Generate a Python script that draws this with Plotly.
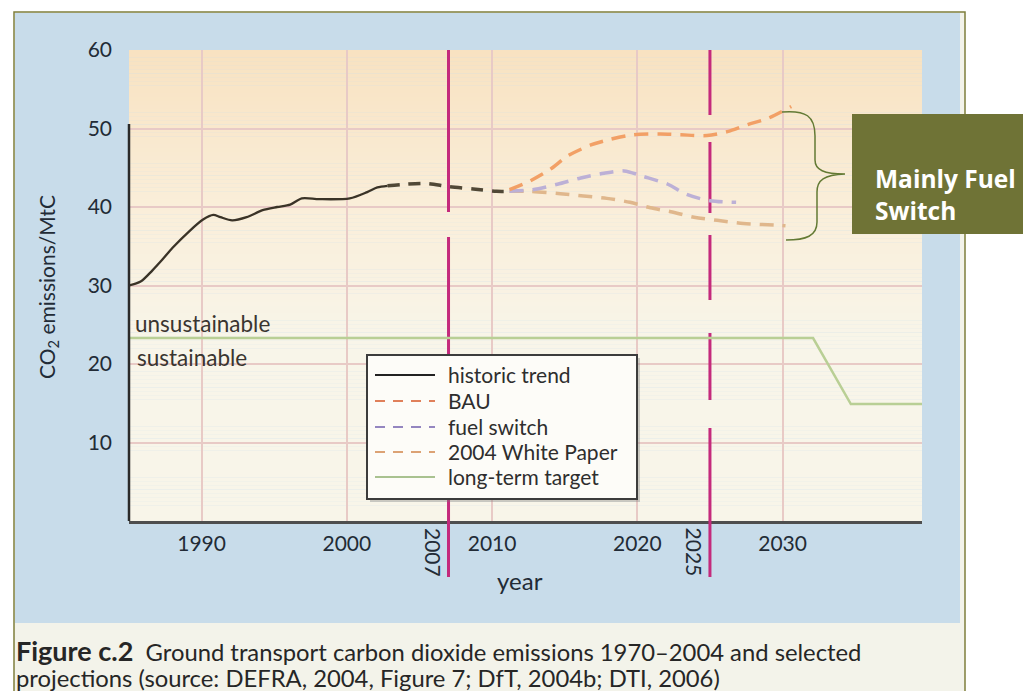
import plotly.graph_objects as go

# ---------------- data ----------------
historic_years = [1985, 1985.8, 1986.6, 1987.3, 1988.0, 1989.2, 1990.1, 1990.8, 1991.3, 1992.1,
                  1993.1, 1994.2, 1995.2, 1996.1, 1996.9, 1998.1, 2000.2, 2001.4, 2002.1, 2002.8]
historic_values = [30.0, 30.5, 31.9, 33.3, 34.8, 37.0, 38.4, 39.0, 38.7, 38.3,
                   38.7, 39.6, 40.0, 40.3, 41.1, 41.0, 41.1, 41.9, 42.5, 42.7]

bridge_years = [2002.8, 2004.0, 2005.5, 2007.0, 2008.7, 2010.3, 2011.2]
bridge_values = [42.7, 42.9, 43.0, 42.6, 42.3, 42.0, 42.0]

bau_years = [2011.2, 2012.6, 2014.0, 2015.2, 2016.8, 2018.1, 2019.7, 2021.6, 2023.0,
             2024.8, 2026.2, 2027.6, 2029.0, 2030.6]
bau_values = [42.2, 43.3, 44.8, 46.5, 47.9, 48.6, 49.2, 49.3, 49.2,
              49.1, 49.6, 50.5, 51.3, 52.8]

fuel_years = [2011.2, 2012.8, 2014.5, 2016.1, 2017.7, 2019.1, 2020.4, 2022.1, 2023.4, 2025.0, 2026.8]
fuel_values = [42.0, 42.2, 42.9, 43.7, 44.3, 44.6, 43.9, 42.9, 41.6, 40.8, 40.6]

wp_years = [2011.2, 2012.6, 2014.7, 2016.3, 2017.9, 2019.5, 2020.9, 2022.3, 2023.9,
            2025.5, 2027.3, 2029.4, 2030.2]
wp_values = [42.0, 42.0, 41.7, 41.4, 41.1, 40.6, 39.9, 39.4, 38.7,
             38.3, 37.9, 37.7, 37.6]

target_years = [1985, 2032.1, 2034.7, 2039.6]
target_values = [23.3, 23.3, 14.9, 14.9]

marker_years = [2007, 2025]
x_tick_vals = [1990, 2000, 2010, 2020, 2030]
y_tick_vals = [10, 20, 30, 40, 50, 60]
x_range = [1985, 2039.6]
y_range = [0, 60]

legend_names = ["historic trend", "BAU", "fuel switch", "2004 White Paper", "long-term target"]

# ---------------- layout helpers ----------------
# the page body adds an 8px margin, so the figure is drawn 8px smaller
PAGE_OFF = 8
VIEW_W, VIEW_H = 1031, 691
W, H = VIEW_W - PAGE_OFF, VIEW_H - PAGE_OFF
# plot-area box in screen pixels
L, R, T, B = 129, 922, 50, 521


def px(x):
    return (x - L) / (R - L)


def py(y):
    return (B - y) / (B - T)


TICK_FONT = dict(family="Lato", size=21, color="#222b36")

fig = go.Figure()

styles = {
    "historic trend": dict(color="#3a3327", dash="solid", width=2.3),
    "BAU": dict(color="#f2a066", dash="14px,9px", width=3.5),
    "fuel switch": dict(color="#bcb0d6", dash="14px,9px", width=3.5),
    "2004 White Paper": dict(color="#e0b78c", dash="14px,9px", width=3.5),
    "long-term target": dict(color="#b9cf95", dash="solid", width=2.5),
}
legend_styles = {
    "historic trend": dict(color="#222222", dash="solid"),
    "BAU": dict(color="#e0805a", dash="10px,8px"),
    "fuel switch": dict(color="#9486c0", dash="10px,8px"),
    "2004 White Paper": dict(color="#dca274", dash="10px,8px"),
    "long-term target": dict(color="#a9c290", dash="solid"),
}

fig.add_trace(go.Scatter(x=target_years, y=target_values, mode="lines", name="long-term target",
                         line=dict(**styles["long-term target"]), showlegend=False))
fig.add_trace(go.Scatter(x=wp_years, y=wp_values, mode="lines", name="2004 White Paper",
                         line=dict(shape="spline", smoothing=0.8, **styles["2004 White Paper"]),
                         showlegend=False))
fig.add_trace(go.Scatter(x=fuel_years, y=fuel_values, mode="lines", name="fuel switch",
                         line=dict(shape="spline", smoothing=0.8, **styles["fuel switch"]),
                         showlegend=False))
fig.add_trace(go.Scatter(x=bau_years, y=bau_values, mode="lines", name="BAU",
                         line=dict(shape="spline", smoothing=0.8, **styles["BAU"]),
                         showlegend=False))
fig.add_trace(go.Scatter(x=bridge_years, y=bridge_values, mode="lines", name="historic trend (projected)",
                         line=dict(shape="spline", smoothing=0.8, color="#514836", dash="12px,9px", width=3.5),
                         showlegend=False))
fig.add_trace(go.Scatter(x=historic_years, y=historic_values, mode="lines", name="historic trend",
                         line=dict(shape="spline", smoothing=0.8, **styles["historic trend"]),
                         showlegend=False))

shapes = []
shapes.append(dict(type="rect", xref="paper", yref="paper", x0=px(14), x1=px(965), y0=py(12), y1=py(VIEW_H + 5),
                   fillcolor="#f3f3ea", line=dict(width=0), layer="below"))
shapes.append(dict(type="rect", xref="paper", yref="paper", x0=px(15), x1=px(960), y0=py(13), y1=py(623),
                   fillcolor="#c8dcea", line=dict(width=0), layer="below"))
shapes.append(dict(type="path", xref="paper", yref="paper",
                   path=f"M{px(14)},{py(VIEW_H + 5)} L{px(14)},{py(12)} L{px(965)},{py(12)} L{px(965)},{py(VIEW_H + 5)}",
                   line=dict(color="#7f7f3c", width=1.5), layer="below"))

# gradient plot background
top_c = (248, 226, 193)
mid_c = (250, 238, 217)
low_c = (248, 245, 233)
N = 120
for i in range(N):
    v0 = y_range[0] + (y_range[1] - y_range[0]) * i / N
    v1 = y_range[0] + (y_range[1] - y_range[0]) * (i + 1) / N
    vm = (v0 + v1) / 2
    if vm <= 23:
        c = low_c
    elif vm <= 40:
        t = (vm - 23) / 17
        c = tuple(low_c[k] + (mid_c[k] - low_c[k]) * t for k in range(3))
    else:
        t = (vm - 40) / 20
        c = tuple(mid_c[k] + (top_c[k] - mid_c[k]) * t for k in range(3))
    shapes.append(dict(type="rect", xref="x", yref="y", x0=x_range[0], x1=x_range[1], y0=v0, y1=v1 + 0.02,
                       fillcolor="rgb(%d,%d,%d)" % tuple(int(round(k)) for k in c),
                       line=dict(width=0), layer="below"))

# magenta year markers
MAG = "#c42a7c"
gaps = {2007: [(212, 237)], 2025: [(115, 142), (213, 235), (300, 333), (400, 428)]}
for yr in marker_years:
    segs = []
    start = T
    for g0, g1 in gaps[yr]:
        segs.append((start, g0))
        start = g1
    segs.append((start, B))
    for s0, s1 in segs:
        shapes.append(dict(type="line", xref="x", yref="y", x0=yr, x1=yr,
                           y0=y_range[1] * py(s1), y1=y_range[1] * py(s0),
                           line=dict(color=MAG, width=3), layer="between"))
    shapes.append(dict(type="line", xref="x", yref="paper", x0=yr, x1=yr, y0=py(577), y1=py(B),
                       line=dict(color=MAG, width=3), layer="above"))

# left axis line (only up to 50)
shapes.append(dict(type="line", xref="paper", yref="paper", x0=0, x1=0, y0=0, y1=py(124),
                   line=dict(color="#2a2a2a", width=2.5), layer="above"))

# manual legend
lx0, ly0, lx1, ly1 = 367, 355, 637, 499
shapes.append(dict(type="rect", xref="paper", yref="paper", x0=px(lx0 + 3), x1=px(lx1 + 3),
                   y0=py(ly1 + 3), y1=py(ly0 + 3), fillcolor="rgba(120,120,120,0.35)",
                   line=dict(width=0), layer="above"))
shapes.append(dict(type="rect", xref="paper", yref="paper", x0=px(lx0), x1=px(lx1), y0=py(ly1), y1=py(ly0),
                   fillcolor="#fdfcf8", line=dict(color="#3c3c3c", width=2), layer="above"))
entry_y = [375, 401, 427, 452, 477]
annotations = []
for name, ey in zip(legend_names, entry_y):
    st = legend_styles[name]
    shapes.append(dict(type="line", xref="paper", yref="paper", x0=px(375), x1=px(435), y0=py(ey), y1=py(ey),
                       line=dict(color=st["color"], dash=st["dash"], width=2), layer="above"))
    annotations.append(dict(text=name, xref="paper", yref="paper", x=px(446), y=py(ey - 1),
                            xanchor="left", yanchor="middle", showarrow=False,
                            font=dict(family="Lato", size=21, color="#2e2e2e")))

# "Mainly Fuel Switch" call-out
shapes.append(dict(type="rect", xref="paper", yref="paper", x0=px(852), x1=px(1040), y0=py(234), y1=py(114),
                   fillcolor="#6f7336", line=dict(width=0), layer="above"))
brace_pts = [("M", [(782, 112)]), ("C", [(806, 110), (815, 116), (815, 136)]), ("L", [(815, 160)]),
             ("C", [(815, 170), (824, 174), (845, 174)]), ("C", [(824, 175), (817, 180), (817, 192)]),
             ("L", [(817, 222)]), ("C", [(817, 236), (806, 240), (786, 240)])]
path = " ".join(cmd + " " + " ".join(f"{px(a):.5f},{py(b):.5f}" for a, b in pts) for cmd, pts in brace_pts)
shapes.append(dict(type="path", xref="paper", yref="paper", path=path,
                   line=dict(color="#637a34", width=1.5), layer="above"))
annotations.append(dict(text="<b>Mainly Fuel</b>", xref="paper", yref="paper", x=px(873), y=py(178),
                        xanchor="left", yanchor="middle", showarrow=False,
                        font=dict(family="Open Sans", size=24.5, color="#ffffff")))
annotations.append(dict(text="<b>Switch</b>", xref="paper", yref="paper", x=px(873), y=py(210),
                        xanchor="left", yanchor="middle", showarrow=False,
                        font=dict(family="Open Sans", size=24.5, color="#ffffff")))

# region labels
annotations.append(dict(text="unsustainable", xref="paper", yref="paper", x=px(133), y=py(323),
                        xanchor="left", yanchor="middle", showarrow=False,
                        font=dict(family="Lato", size=22.5, color="#3a3530")))
annotations.append(dict(text="sustainable", xref="paper", yref="paper", x=px(135), y=py(357),
                        xanchor="left", yanchor="middle", showarrow=False,
                        font=dict(family="Lato", size=22.5, color="#3a3530")))

# rotated marker-year labels
for yr in marker_years:
    annotations.append(dict(text=str(yr), xref="x", yref="paper", x=yr, y=py(579), xshift=-15,
                            textangle=90, showarrow=False, font=TICK_FONT))

# axis titles
annotations.append(dict(text="year", xref="paper", yref="paper", x=px(520), y=py(580),
                        xanchor="center", yanchor="middle", showarrow=False,
                        font=dict(family="Lato", size=24, color="#222b36")))
annotations.append(dict(text="CO<sub>2</sub> emissions/MtC", xref="paper", yref="paper", x=px(48), y=py(287),
                        xanchor="center", yanchor="middle", textangle=-90, showarrow=False,
                        font=dict(family="Lato", size=21, color="#222b36")))

# caption (two lines)
annotations.append(dict(text="<span style='font-size:27px'><b>Figure c.2</b></span>  Ground transport carbon "
                             "dioxide emissions 1970–2004 and selected",
                        xref="paper", yref="paper", x=px(14), y=py(650), xanchor="left", yanchor="middle",
                        showarrow=False, font=dict(family="Lato", size=23.8, color="#262626")))
annotations.append(dict(text="projections (source: DEFRA, 2004, Figure 7; DfT, 2004b; DTI, 2006)",
                        xref="paper", yref="paper", x=px(14), y=py(678), xanchor="left", yanchor="middle",
                        showarrow=False, font=dict(family="Lato", size=23.8, color="#262626")))

fig.update_layout(
    width=W, height=H,
    margin=dict(l=L - PAGE_OFF, r=W - (R - PAGE_OFF), t=T - PAGE_OFF, b=H - (B - PAGE_OFF)),
    paper_bgcolor="#ffffff",
    plot_bgcolor="#f8f4e6",
    showlegend=False,
    shapes=shapes,
    annotations=annotations,
    xaxis=dict(range=x_range, tickvals=x_tick_vals, ticks="", showgrid=True, gridcolor="#e8cac6",
               gridwidth=1.5, zeroline=False, showline=True, linecolor="#4e4e4e", linewidth=3,
               tickfont=TICK_FONT, ticklabelstandoff=2),
    yaxis=dict(range=y_range, tickvals=y_tick_vals, ticks="", showgrid=True, gridcolor="#e8cac6",
               gridwidth=1.5, zeroline=False, showline=False,
               tickfont=TICK_FONT, ticklabelstandoff=16),
)

fig.write_html("out.html")
